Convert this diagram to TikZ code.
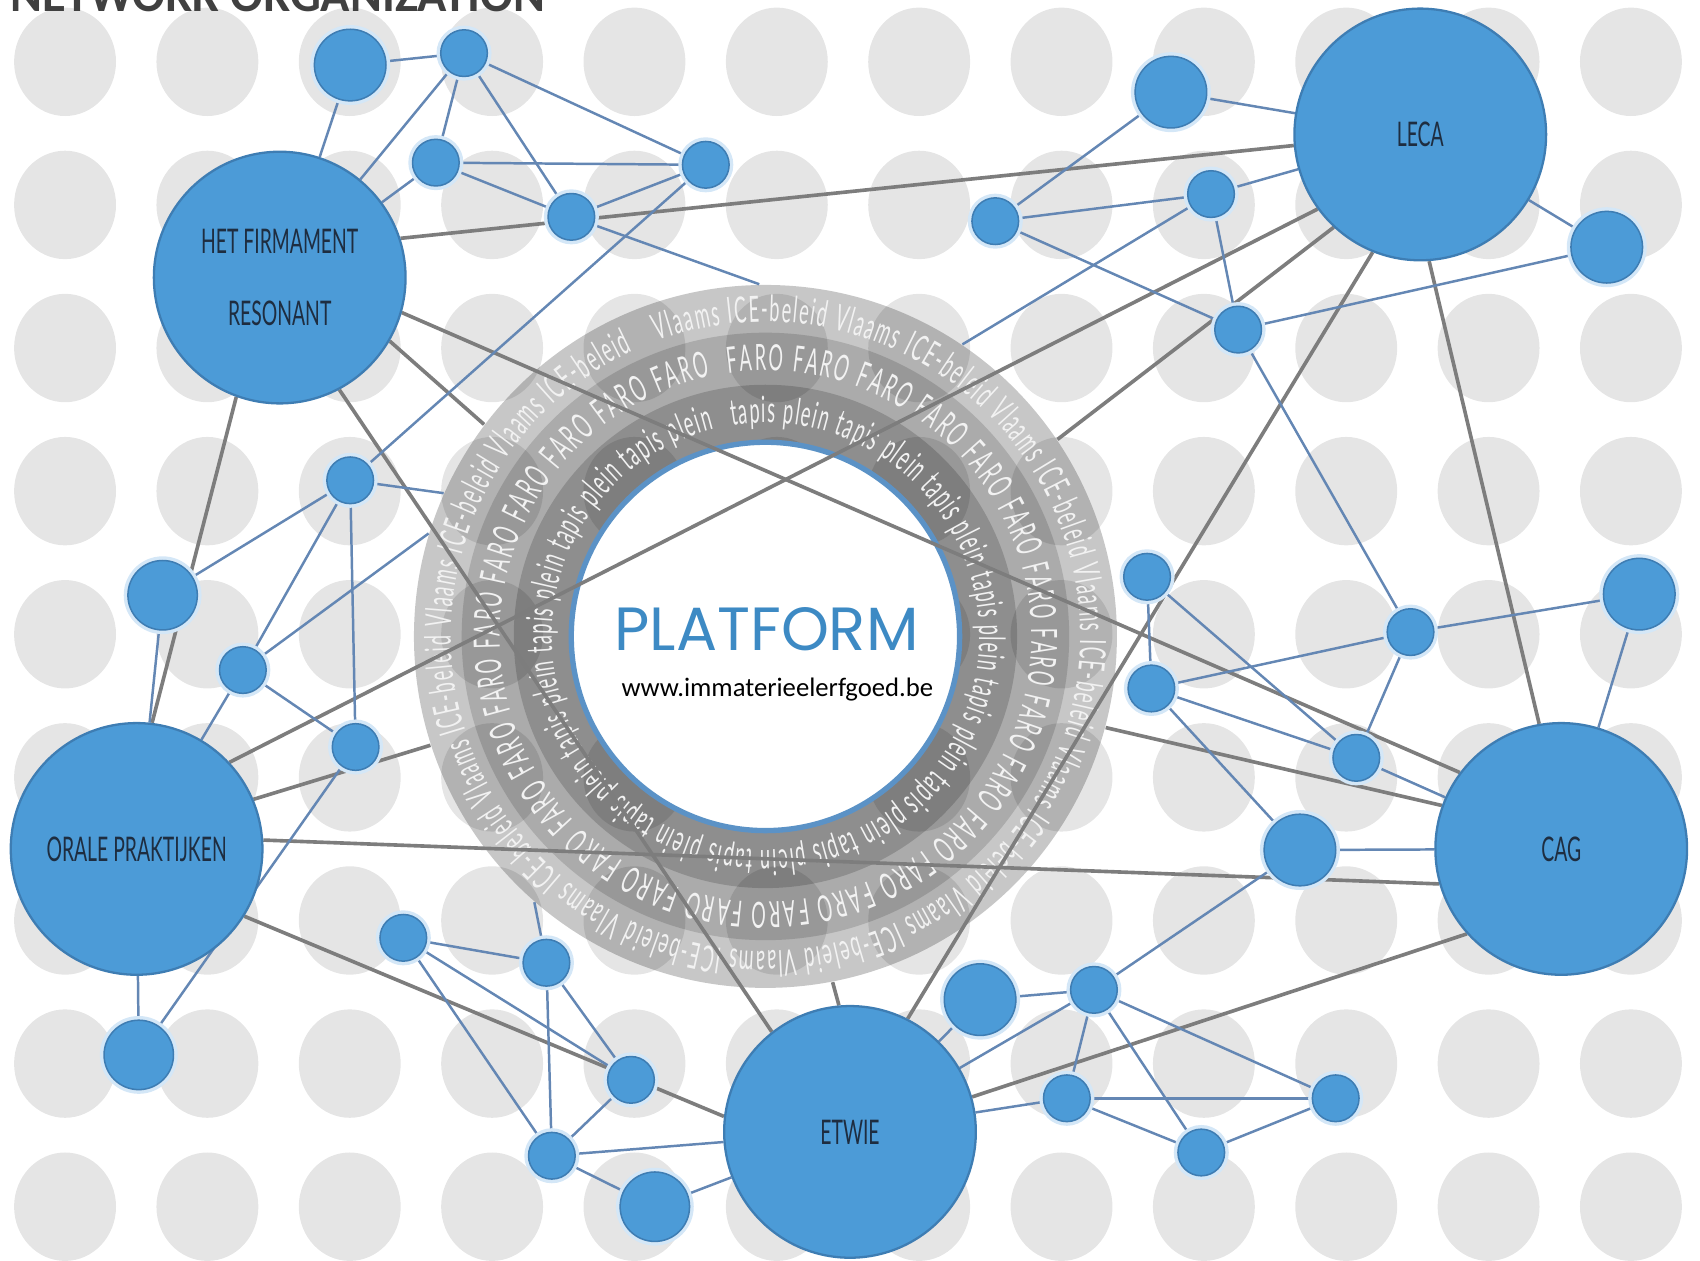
\documentclass[tikz,border=0pt]{standalone}
\usepackage{fontspec}
\setmainfont{Carlito}
\newfontfamily\hubfont[FakeStretch=0.57]{Lato}
\newfontfamily\ringfont[FakeStretch=0.5]{Lato}
\newfontfamily\platfont{Poppins}
\usepackage{tikz}
\usetikzlibrary{decorations.text}

\definecolor{nodeblue}{HTML}{4C9BD7}
\definecolor{nodeedge}{HTML}{3E7DB3}
\definecolor{glow}{HTML}{D4E7F7}
\definecolor{linkblue}{HTML}{6487B4}
\definecolor{tiegrey}{HTML}{7D7D7D}
\definecolor{dotgrey}{HTML}{E5E5E5}
\definecolor{ringblue}{HTML}{5B92C6}
\definecolor{platblue}{HTML}{3D8AC4}
\definecolor{navy}{HTML}{1E2D40}
\definecolor{titlegrey}{HTML}{404040}
\definecolor{ringletter}{HTML}{F2F2F2}

\pgfdeclarelayer{dots}
\pgfdeclarelayer{ring}
\pgfdeclarelayer{wires}
\pgfsetlayers{dots,ring,wires,main}

\tikzset{
major/.style={circle, inner sep=0pt, fill=nodeblue, draw=nodeedge, line width=0.6pt,
  minimum size=2.32cm, text=navy, align=center, font=\hubfont\fontsize{8.9}{19}\selectfont},
minor/.style={circle, inner sep=0pt, fill=nodeblue, draw=nodeedge, line width=0.4pt,
  minimum size=#1, preaction={draw=glow, line width=2.2pt}},
minor/.default=4.3mm,
blueline/.style={draw=linkblue, line width=0.65pt},
greyline/.style={draw=tiegrey, line width=0.95pt},
ringtext/.style={decorate, decoration={text along path, text align={fit to path}, text color=ringletter,
  text={|\ringfont\fontsize{9.5}{10}\selectfont|#1}}}
}

\begin{document}
\begin{tikzpicture}[x=0.01cm, y=-0.01cm]
    \useasboundingbox (0,0) rectangle (1568,1163);
    \clip (0,0) rectangle (1568,1163);

    % grey dot grid
    \begin{pgfonlayer}{dots}
        \foreach \i in {0,...,11}
            \foreach \j in {0,...,8}
                \fill[dotgrey] (60+131.3*\i, 57+132*\j) ellipse[x radius=47, y radius=50];
    \end{pgfonlayer}

    % platform ring
    \begin{pgfonlayer}{ring}
        \node[circle, inner sep=0pt, minimum size=6.48cm, fill=black, fill opacity=0.22] (platform) at (706,587) {};
        \fill[black, fill opacity=0.14] (platform.center) circle[radius=2.80cm];
        \fill[black, fill opacity=0.17] (platform.center) circle[radius=2.32cm];
        \draw[ringblue, line width=1.4pt, fill=white] (platform.center) circle[radius=1.79cm];
        \path[ringtext={Vlaams ICE-beleid Vlaams ICE-beleid Vlaams ICE-beleid Vlaams ICE-beleid Vlaams ICE-beleid Vlaams ICE-beleid Vlaams ICE-beleid Vlaams ICE-beleid Vlaams ICE-beleid Vlaams ICE-beleid Vlaams ICE-beleid}]
            (platform.center) ++(110:2.90cm) arc[start angle=110, end angle=-245, radius=2.90cm];
        \path[ringtext={FARO FARO FARO FARO FARO FARO FARO FARO FARO FARO FARO FARO FARO FARO FARO FARO FARO FARO FARO FARO FARO FARO FARO FARO FARO FARO}]
            (platform.center) ++(98:2.45cm) arc[start angle=98, end angle=-258, radius=2.45cm];
        \path[ringtext={tapis plein tapis plein tapis plein tapis plein tapis plein tapis plein tapis plein tapis plein tapis plein tapis plein tapis plein tapis plein tapis plein}]
            (platform.center) ++(99:1.97cm) arc[start angle=99, end angle=-256, radius=1.97cm];
    \end{pgfonlayer}

    \node[font=\platfont\fontsize{16}{16}\selectfont, text=platblue] (name) at (707,580) {PLATFORM};
    \node[font=\fontsize{7}{8}\selectfont] (url) at (717,636) {www.immaterieelerfgoed.be};
    \node[font=\bfseries\fontsize{12.7}{14}\selectfont, text=titlegrey, anchor=base east] (heading) at (515,11) {I NETWORK ORGANIZATION};

    % big partners
    \node[major] (firm) at (258,256) {HET FIRMAMENT\\RESONANT};
    \node[major] (leca) at (1310,124) {LECA};
    \node[major] (orale) at (126,783) {ORALE PRAKTIJKEN};
    \node[major] (cag) at (1440,783) {CAG};
    \node[major] (etwie) at (784,1044) {ETWIE};

    % small members
    \node[minor=6.6mm] (n1) at (323,60) {};
    \node[minor] (n2) at (428,49) {};
    \node[minor] (n3) at (402,150) {};
    \node[minor] (n4) at (527,200) {};
    \node[minor] (n5) at (651,152) {};
    \node[minor] (n6) at (323,443) {};
    \node[minor=6.4mm] (n7) at (150,549) {};
    \node[minor] (n8) at (224,618) {};
    \node[minor] (n9) at (328,689) {};
    \node[minor=6.4mm] (n10) at (128,973) {};
    \node[minor] (n11) at (372,865) {};
    \node[minor] (n12) at (504,888) {};
    \node[minor] (n13) at (582,996) {};
    \node[minor] (n14) at (509,1066) {};
    \node[minor=6.4mm] (n15) at (604,1113) {};
    \node[minor=6.6mm] (n16) at (904,922) {};
    \node[minor] (n17) at (1009,913) {};
    \node[minor] (n18) at (984,1013) {};
    \node[minor] (n19) at (1108,1063) {};
    \node[minor] (n20) at (1232,1013) {};
    \node[minor=6.6mm] (n21) at (1199,784) {};
    \node[minor] (n22) at (1058,532) {};
    \node[minor] (n23) at (1062,635) {};
    \node[minor] (n24) at (1301,583) {};
    \node[minor=6.6mm] (n25) at (1512,548) {};
    \node[minor] (n26) at (1251,699) {};
    \node[minor=6.6mm] (n27) at (1080,85) {};
    \node[minor] (n28) at (918,204) {};
    \node[minor] (n29) at (1117,179) {};
    \node[minor] (n30) at (1142,304) {};
    \node[minor=6.6mm] (n31) at (1482,228) {};

    \begin{pgfonlayer}{wires}
        % partner to partner
        \draw[greyline] (firm.18) -- (leca.185);
        \draw[greyline] (firm.250) -- (orale.83);
        \draw[greyline] (firm.-62) -- (etwie.128);
        \draw[greyline] (firm.-16) -- (cag.143);
        \draw[greyline] (firm.-30) -- (platform.143);
        \draw[greyline] (leca.216) -- (orale.43);
        \draw[greyline] (leca.248) -- (etwie.63);
        \draw[greyline] (leca.274) -- (cag.100);
        \draw[greyline] (leca.227) -- (platform.34);
        \draw[greyline] (orale.4) -- (cag.196);
        \draw[greyline] (orale.-32) -- (etwie.173);
        \draw[greyline] (orale.23) -- (platform.198);
        \draw[greyline] (cag.222) -- (etwie.16);
        \draw[greyline] (cag.160) -- (platform.345);
        \draw[greyline] (etwie.95) -- (platform.281);

        % top left
        \draw[blueline] (n1) -- (n2);
        \draw[blueline] (n1) -- (firm);
        \draw[blueline] (n2) -- (firm);
        \draw[blueline] (n2) -- (n3);
        \draw[blueline] (n2) -- (n4);
        \draw[blueline] (n2) -- (n5);
        \draw[blueline] (n3) -- (firm);
        \draw[blueline] (n3) -- (n5);
        \draw[blueline] (n3) -- (n4);
        \draw[blueline] (n4) -- (n5);
        \draw[blueline] (n4) -- (platform.91);
        \draw[blueline] (n5) -- (n6);

        % left
        \draw[blueline] (n6) -- (n7);
        \draw[blueline] (n6) -- (n8);
        \draw[blueline] (n6) -- (n9);
        \draw[blueline] (n6) -- (platform.156);
        \draw[blueline] (n7) -- (orale);
        \draw[blueline] (n8) -- (orale);
        \draw[blueline] (n8) -- (n9);
        \draw[blueline] (n8) -- (platform.163);
        \draw[blueline] (n9) -- (n10);
        \draw[blueline] (n10) -- (orale);

        % bottom left
        \draw[blueline] (n11) -- (n12);
        \draw[blueline] (n11) -- (n13);
        \draw[blueline] (n11) -- (n14);
        \draw[blueline] (n12) -- (n13);
        \draw[blueline] (n12) -- (n14);
        \draw[blueline] (n12) -- (platform.229);
        \draw[blueline] (n13) -- (n14);
        \draw[blueline] (n14) -- (etwie);
        \draw[blueline] (n14) -- (n15);
        \draw[blueline] (n15) -- (etwie);

        % bottom right
        \draw[blueline] (n16) -- (n17);
        \draw[blueline] (n16) -- (etwie);
        \draw[blueline] (n17) -- (n21);
        \draw[blueline] (n17) -- (etwie);
        \draw[blueline] (n17) -- (n18);
        \draw[blueline] (n17) -- (n19);
        \draw[blueline] (n17) -- (n20);
        \draw[blueline] (n18) -- (etwie);
        \draw[blueline] (n18) -- (n20);
        \draw[blueline] (n18) -- (n19);
        \draw[blueline] (n19) -- (n20);

        % right
        \draw[blueline] (n21) -- (cag);
        \draw[blueline] (n21) -- (n23);
        \draw[blueline] (n22) -- (n23);
        \draw[blueline] (n22) -- (n26);
        \draw[blueline] (n23) -- (n24);
        \draw[blueline] (n23) -- (n26);
        \draw[blueline] (n24) -- (n26);
        \draw[blueline] (n24) -- (n25);
        \draw[blueline] (n24) -- (n30);
        \draw[blueline] (n25) -- (cag);
        \draw[blueline] (n26) -- (cag);

        % top right
        \draw[blueline] (n27) -- (leca);
        \draw[blueline] (n27) -- (n28);
        \draw[blueline] (n28) -- (n29);
        \draw[blueline] (n28) -- (n30);
        \draw[blueline] (n29) -- (leca);
        \draw[blueline] (n29) -- (n30);
        \draw[blueline] (n29) -- (platform.56);
        \draw[blueline] (n30) -- (n31);
        \draw[blueline] (n31) -- (leca);
    \end{pgfonlayer}

\end{tikzpicture}
\end{document}
